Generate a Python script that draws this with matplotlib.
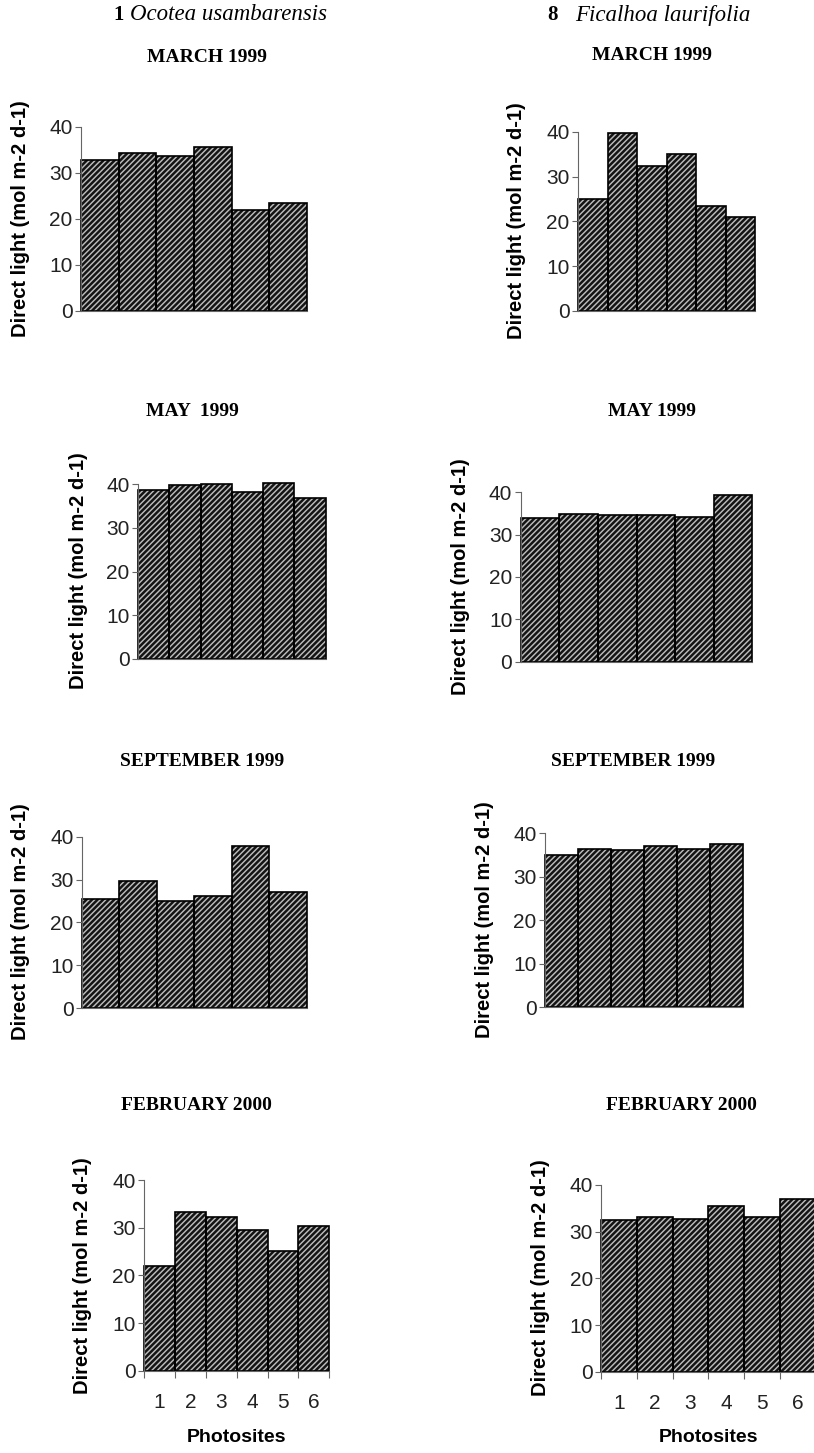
import numpy as np
import matplotlib
matplotlib.use("Agg")
from matplotlib import pyplot as plt

# photosite numbers and direct light (mol m-2 d-1)
photosites = [1, 2, 3, 4, 5, 6]

ocotea_mar99 = [32.8, 34.3, 33.8, 35.7, 22.0, 23.5]
ocotea_may99 = [38.6, 39.9, 40.0, 38.3, 40.2, 36.9]
ocotea_sep99 = [25.5, 29.7, 24.9, 26.2, 37.9, 27.1]
ocotea_feb00 = [22.0, 33.3, 32.2, 29.6, 25.1, 30.4]

ficalhoa_mar99 = [24.9, 39.6, 32.4, 35.0, 23.5, 20.9]
ficalhoa_may99 = [33.9, 34.8, 34.7, 34.6, 34.2, 39.3]
ficalhoa_sep99 = [34.9, 36.3, 36.2, 37.1, 36.5, 37.5]
ficalhoa_feb00 = [32.4, 33.1, 32.7, 35.6, 33.2, 37.0]

titles_left = ["MARCH 1999", "MAY  1999", "SEPTEMBER 1999", "FEBRUARY 2000"]
titles_right = ["MARCH 1999", "MAY 1999", "SEPTEMBER 1999", "FEBRUARY 2000"]
yticks = [0, 10, 20, 30, 40]
ylabel = "Direct light (mol m-2 d-1)"

W, H = 814, 1453
plt.rcParams["hatch.linewidth"] = 1.05
fig = plt.figure(figsize=(W / 100, H / 100), dpi=100)

SERIF = "Liberation Serif"
SANS = "Liberation Sans"


def fx(x):
    return x / W


def fy(y):
    return 1 - y / H


def panel(box, values, title, title_xy, ylab_xy, bottom=False):
    """box = (left, right, y at 0, y at 40) in pixels"""
    l, r, y0, y40 = box
    ax = fig.add_axes([fx(l), fy(y0), (r - l) / W, (y0 - y40) / H])
    ax.bar(photosites, values, width=1.0, color="#141414", edgecolor="#bcbcbc",
           hatch="//////", linewidth=0, clip_on=False)
    ax.bar(photosites, values, width=1.0, fill=False, edgecolor="black",
           linewidth=1.2, clip_on=False)
    ax.set_xlim(0.5, 6.5)
    ax.set_ylim(0, 40)
    ax.set_yticks(yticks)
    for s in ["top", "right"]:
        ax.spines[s].set_visible(False)
    for s in ["left", "bottom"]:
        ax.spines[s].set_color("#666666")
        ax.spines[s].set_linewidth(0.8)
    ax.tick_params(axis="y", length=4, width=0.8, color="#666666", pad=2,
                   labelsize=15, labelcolor="#222222")
    for t in ax.get_yticklabels():
        t.set_fontfamily(SANS)
    if bottom:
        ax.set_xticks(photosites)
        ax.set_xticklabels([str(p) for p in photosites], fontfamily=SANS,
                           fontsize=15, color="#222222")
        ax.tick_params(axis="x", which="major", length=0, pad=16)
        ax.set_xticks(np.arange(0.5, 7, 1), minor=True)
        ax.tick_params(axis="x", which="minor", length=5, width=0.8,
                       color="#666666")
    else:
        ax.set_xticks([])
    fig.text(fx(title_xy[0]), fy(title_xy[1]), title, ha="center", va="center",
             fontfamily=SERIF, fontweight="bold", fontsize=14)
    fig.text(fx(ylab_xy[0]), fy(ylab_xy[1]), ylabel, ha="center", va="center",
             rotation=90, fontfamily=SANS, fontweight="bold", fontsize=14.5)
    return ax


# left column: Ocotea usambarensis
panel((81, 307, 311, 127), ocotea_mar99, titles_left[0], (207, 57), (21, 219))
panel((138, 325.7, 658.7, 484.3), ocotea_may99, titles_left[1], (192, 412), (78, 571))
panel((82, 306.7, 1008, 836.7), ocotea_sep99, titles_left[2], (202, 762), (21, 922))
panel((144, 329.3, 1370.7, 1180), ocotea_feb00, titles_left[3], (196, 1106), (82, 1276),
      bottom=True)

# right column: Ficalhoa laurifolia
panel((578, 755, 311, 131.7), ficalhoa_mar99, titles_right[0], (652, 56), (517, 221))
panel((520.7, 752.3, 661.7, 492.3), ficalhoa_may99, titles_right[1], (652, 411), (460, 577))
panel((545, 743.3, 1007.3, 833.3), ficalhoa_sep99, titles_right[2], (633, 761), (485, 920))
panel((601.3, 815.5, 1371.7, 1185), ficalhoa_feb00, titles_right[3], (681, 1106), (540, 1278),
      bottom=True)

# species headers
fig.text(fx(113), fy(15), "1", ha="left", va="center", fontfamily=SERIF,
         fontweight="bold", fontsize=15)
fig.text(fx(130), fy(15), "Ocotea usambarensis", ha="left", va="center",
         fontfamily=SERIF, fontstyle="italic", fontsize=16.5)
fig.text(fx(547), fy(15), "8", ha="left", va="center", fontfamily=SERIF,
         fontweight="bold", fontsize=15)
fig.text(fx(575), fy(15), "Ficalhoa laurifolia", ha="left", va="center",
         fontfamily=SERIF, fontstyle="italic", fontsize=16.5)

# x axis titles
fig.text(fx(236), fy(1438), "Photosites", ha="center", va="center",
         fontfamily=SANS, fontweight="bold", fontsize=14)
fig.text(fx(708), fy(1438), "Photosites", ha="center", va="center",
         fontfamily=SANS, fontweight="bold", fontsize=14)

fig.savefig("out.png", dpi=100)
